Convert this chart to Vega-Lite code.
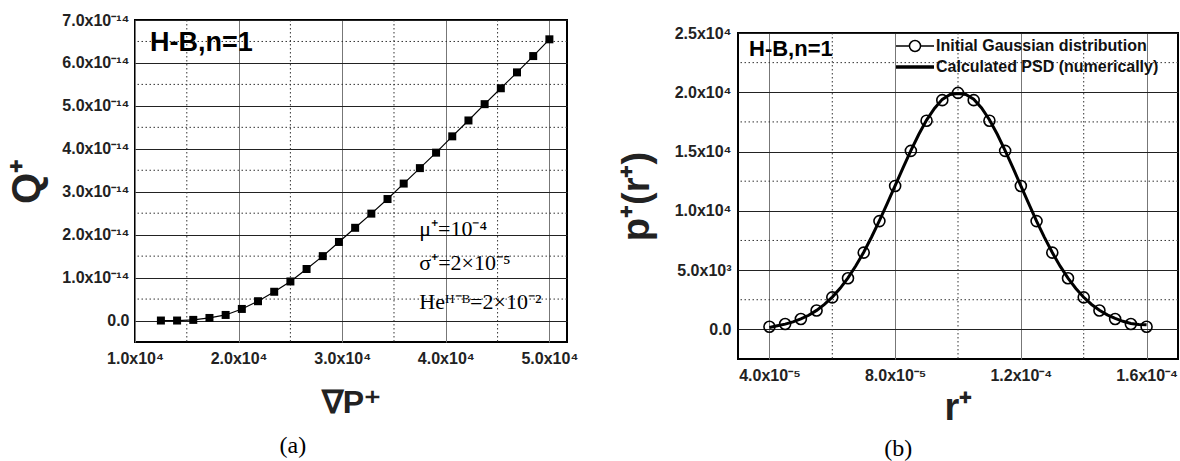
{
  "$schema": "https://vega.github.io/schema/vega-lite/v6.json",
  "background": "white",
  "padding": {"left": 6, "top": 11, "right": 0, "bottom": 0},
  "columns": 2,
  "spacing": 38,
  "resolve": {"legend": {"shape": "independent", "strokeWidth": "independent"}},
  "datasets": {
    "q": [
      {"dP": 12500, "Q": 0.0},
      {"dP": 14062.5, "Q": 0.0},
      {"dP": 15625, "Q": 0.015e-14},
      {"dP": 17187.5, "Q": 0.06e-14},
      {"dP": 18750, "Q": 0.13e-14},
      {"dP": 20312.5, "Q": 0.27e-14},
      {"dP": 21875, "Q": 0.45e-14},
      {"dP": 23437.5, "Q": 0.67e-14},
      {"dP": 25000, "Q": 0.91e-14},
      {"dP": 26562.5, "Q": 1.20e-14},
      {"dP": 28125, "Q": 1.50e-14},
      {"dP": 29687.5, "Q": 1.83e-14},
      {"dP": 31250, "Q": 2.16e-14},
      {"dP": 32812.5, "Q": 2.49e-14},
      {"dP": 34375, "Q": 2.83e-14},
      {"dP": 35937.5, "Q": 3.19e-14},
      {"dP": 37500, "Q": 3.55e-14},
      {"dP": 39062.5, "Q": 3.91e-14},
      {"dP": 40625, "Q": 4.29e-14},
      {"dP": 42187.5, "Q": 4.66e-14},
      {"dP": 43750, "Q": 5.04e-14},
      {"dP": 45312.5, "Q": 5.41e-14},
      {"dP": 46875, "Q": 5.78e-14},
      {"dP": 48437.5, "Q": 6.16e-14},
      {"dP": 50000, "Q": 6.55e-14}
    ],
    "qMinorX": [{"dP": 15000}, {"dP": 25000}, {"dP": 35000}, {"dP": 45000}],
    "qMinorY": [{"Q": 0.5e-14}, {"Q": 1.5e-14}, {"Q": 2.5e-14}, {"Q": 3.5e-14}, {"Q": 4.5e-14}, {"Q": 5.5e-14}, {"Q": 6.5e-14}],
    "qNotes": [
      {"dP": 37440, "Q": 2.13e-14, "label": "μ⁺=10⁻⁴"},
      {"dP": 37440, "Q": 1.33e-14, "label": "σ⁺=2×10⁻⁵"},
      {"dP": 37440, "Q": 0.44e-14, "label": "Heᴴ⁻ᴮ=2×10⁻²"}
    ],
    "qTag": [{"dP": 11450, "Q": 6.47e-14, "label": "H-B,n=1"}],
    "gauss": [
      {"r": 4.0e-5, "p": 222, "series": "Initial Gaussian distribution"},
      {"r": 4.5e-5, "p": 455, "series": "Initial Gaussian distribution"},
      {"r": 5.0e-5, "p": 877, "series": "Initial Gaussian distribution"},
      {"r": 5.5e-5, "p": 1587, "series": "Initial Gaussian distribution"},
      {"r": 6.0e-5, "p": 2700, "series": "Initial Gaussian distribution"},
      {"r": 6.5e-5, "p": 4314, "series": "Initial Gaussian distribution"},
      {"r": 7.0e-5, "p": 6476, "series": "Initial Gaussian distribution"},
      {"r": 7.5e-5, "p": 9132, "series": "Initial Gaussian distribution"},
      {"r": 8.0e-5, "p": 12099, "series": "Initial Gaussian distribution"},
      {"r": 8.5e-5, "p": 15057, "series": "Initial Gaussian distribution"},
      {"r": 9.0e-5, "p": 17603, "series": "Initial Gaussian distribution"},
      {"r": 9.5e-5, "p": 19334, "series": "Initial Gaussian distribution"},
      {"r": 1.0e-4, "p": 19947, "series": "Initial Gaussian distribution"},
      {"r": 1.05e-4, "p": 19334, "series": "Initial Gaussian distribution"},
      {"r": 1.1e-4, "p": 17603, "series": "Initial Gaussian distribution"},
      {"r": 1.15e-4, "p": 15057, "series": "Initial Gaussian distribution"},
      {"r": 1.2e-4, "p": 12099, "series": "Initial Gaussian distribution"},
      {"r": 1.25e-4, "p": 9132, "series": "Initial Gaussian distribution"},
      {"r": 1.3e-4, "p": 6476, "series": "Initial Gaussian distribution"},
      {"r": 1.35e-4, "p": 4314, "series": "Initial Gaussian distribution"},
      {"r": 1.4e-4, "p": 2700, "series": "Initial Gaussian distribution"},
      {"r": 1.45e-4, "p": 1587, "series": "Initial Gaussian distribution"},
      {"r": 1.5e-4, "p": 877, "series": "Initial Gaussian distribution"},
      {"r": 1.55e-4, "p": 455, "series": "Initial Gaussian distribution"},
      {"r": 1.6e-4, "p": 222, "series": "Initial Gaussian distribution"}
    ],
    "psd": [
      {"r": 4.0e-5, "p": 150}, {"r": 4.25e-5, "p": 300}, {"r": 4.5e-5, "p": 440}, {"r": 4.75e-5, "p": 630},
      {"r": 5.0e-5, "p": 880}, {"r": 5.25e-5, "p": 1190}, {"r": 5.5e-5, "p": 1600}, {"r": 5.75e-5, "p": 2100},
      {"r": 6.0e-5, "p": 2720}, {"r": 6.25e-5, "p": 3460}, {"r": 6.5e-5, "p": 4340}, {"r": 6.75e-5, "p": 5360},
      {"r": 7.0e-5, "p": 6500}, {"r": 7.25e-5, "p": 7790}, {"r": 7.5e-5, "p": 9170}, {"r": 7.75e-5, "p": 10630},
      {"r": 8.0e-5, "p": 12120}, {"r": 8.25e-5, "p": 13620}, {"r": 8.5e-5, "p": 15080}, {"r": 8.75e-5, "p": 16440},
      {"r": 9.0e-5, "p": 17650}, {"r": 9.25e-5, "p": 18640}, {"r": 9.5e-5, "p": 19400}, {"r": 9.75e-5, "p": 19810},
      {"r": 1.0e-4, "p": 19900}, {"r": 1.025e-4, "p": 19820}, {"r": 1.05e-4, "p": 19420}, {"r": 1.075e-4, "p": 18680},
      {"r": 1.1e-4, "p": 17680}, {"r": 1.125e-4, "p": 16460}, {"r": 1.15e-4, "p": 15080}, {"r": 1.175e-4, "p": 13620},
      {"r": 1.2e-4, "p": 12110}, {"r": 1.225e-4, "p": 10600}, {"r": 1.25e-4, "p": 9140}, {"r": 1.275e-4, "p": 7760},
      {"r": 1.3e-4, "p": 6480}, {"r": 1.325e-4, "p": 5330}, {"r": 1.35e-4, "p": 4320}, {"r": 1.375e-4, "p": 3450},
      {"r": 1.4e-4, "p": 2710}, {"r": 1.425e-4, "p": 2100}, {"r": 1.45e-4, "p": 1610}, {"r": 1.475e-4, "p": 1220},
      {"r": 1.5e-4, "p": 920}, {"r": 1.525e-4, "p": 680}, {"r": 1.55e-4, "p": 500}, {"r": 1.575e-4, "p": 420},
      {"r": 1.6e-4, "p": 380}
    ],
    "pMinorX": [{"r": 6e-5}, {"r": 1e-4}, {"r": 1.4e-4}],
    "pMinorY": [{"p": 2500}, {"p": 7500}, {"p": 12500}, {"p": 17500}, {"p": 22500}],
    "pTag": [{"r": 3.35e-5, "p": 23629, "label": "H-B,n=1"}]
  },
  "concat": [
    {
      "width": 432,
      "height": 322,
      "title": {"text": "(a)", "orient": "bottom", "anchor": "middle", "frame": "bounds", "font": "Liberation Serif", "fontSize": 24, "fontWeight": "normal", "color": "black", "offset": 16},
      "layer": [
        {
          "data": {"name": "qMinorX"},
          "mark": {"type": "rule", "color": "#333", "strokeWidth": 1, "strokeDash": [1.5, 2.5]},
          "encoding": {"x": {"field": "dP", "type": "quantitative", "scale": {"domain": [10000, 51700], "nice": false, "zero": false}}}
        },
        {
          "data": {"name": "qMinorY"},
          "mark": {"type": "rule", "color": "#333", "strokeWidth": 1, "strokeDash": [1.5, 2.5]},
          "encoding": {"y": {"field": "Q", "type": "quantitative", "scale": {"domain": [-5e-15, 7e-14], "nice": false, "zero": false}}}
        },
        {
          "data": {"name": "q"},
          "mark": {"type": "line", "color": "black", "strokeWidth": 1.2, "point": {"shape": "square", "filled": true, "size": 64, "color": "black"}},
          "encoding": {
            "x": {"field": "dP", "type": "quantitative", "scale": {"domain": [10000, 51700], "nice": false, "zero": false},
              "axis": {"values": [10000, 20000, 30000, 40000, 50000], "labelExpr": "format(datum.value/10000,'.1f')+'x10⁴'", "title": "∇P⁺", "titleFontSize": 32, "grid": true, "gridColor": "#777", "labelPadding": 8, "titlePadding": 21, "labelOverlap": false, "labelFlush": false}},
            "y": {"field": "Q", "type": "quantitative", "scale": {"domain": [-5e-15, 7e-14], "nice": false, "zero": false},
              "axis": {"values": [0, 1e-14, 2e-14, 3e-14, 4e-14, 5e-14, 6e-14, 7e-14], "labelExpr": "datum.value == 0 ? '0.0' : format(datum.value*1e14,'.1f')+'x10⁻¹⁴'", "title": "Q⁺", "titleFontSize": 40, "grid": true, "gridColor": "#222", "labelPadding": 6, "titlePadding": 14, "labelOverlap": false, "labelFlush": false}}
          }
        },
        {
          "data": {"name": "qTag"},
          "mark": {"type": "text", "font": "Liberation Sans", "fontWeight": "bold", "fontSize": 27, "align": "left", "baseline": "middle", "color": "black"},
          "encoding": {"x": {"field": "dP", "type": "quantitative"}, "y": {"field": "Q", "type": "quantitative"}, "text": {"field": "label"}}
        },
        {
          "data": {"name": "qNotes"},
          "mark": {"type": "text", "font": "Liberation Serif", "fontSize": 22, "align": "left", "baseline": "middle", "color": "black"},
          "encoding": {"x": {"field": "dP", "type": "quantitative"}, "y": {"field": "Q", "type": "quantitative"}, "text": {"field": "label"}}
        }
      ]
    },
    {
      "spacing": 3,
      "resolve": {"legend": {"shape": "independent", "strokeWidth": "independent"}},
      "vconcat": [
        {
          "width": 440,
          "height": 1,
          "data": {"values": []},
          "mark": "point",
          "encoding": {},
          "view": {"stroke": null}
        },
        {
          "width": 440,
          "height": 326,
          "title": {"text": "(b)", "orient": "bottom", "anchor": "middle", "frame": "bounds", "font": "Liberation Serif", "fontSize": 24, "fontWeight": "normal", "color": "black", "offset": 10},
          "layer": [
            {
              "data": {"name": "pMinorX"},
              "mark": {"type": "rule", "color": "#333", "strokeWidth": 1, "strokeDash": [1.5, 2.5]},
              "encoding": {"x": {"field": "r", "type": "quantitative", "scale": {"domain": [3e-5, 1.7e-4], "nice": false, "zero": false}}}
            },
            {
              "data": {"name": "pMinorY"},
              "mark": {"type": "rule", "color": "#333", "strokeWidth": 1, "strokeDash": [1.5, 2.5]},
              "encoding": {"y": {"field": "p", "type": "quantitative", "scale": {"domain": [-2500, 25000], "nice": false, "zero": false}}}
            },
            {
              "data": {"name": "psd"},
              "mark": {"type": "line", "color": "black", "strokeWidth": 3},
              "encoding": {
                "x": {"field": "r", "type": "quantitative", "scale": {"domain": [3e-5, 1.7e-4], "nice": false, "zero": false},
                  "axis": {"values": [4e-5, 8e-5, 1.2e-4, 1.6e-4], "labelExpr": "datum.value < 1e-4 ? format(datum.value*1e5,'.1f')+'x10⁻⁵' : format(datum.value*1e4,'.1f')+'x10⁻⁴'", "title": "r⁺", "titleFontSize": 38, "grid": true, "gridColor": "#777", "labelPadding": 8, "titlePadding": 6, "labelOverlap": false, "labelFlush": false}},
                "y": {"field": "p", "type": "quantitative", "scale": {"domain": [-2500, 25000], "nice": false, "zero": false},
                  "axis": {"values": [0, 5000, 10000, 15000, 20000, 25000], "labelExpr": "datum.value == 0 ? '0.0' : datum.value < 10000 ? format(datum.value/1000,'.1f')+'x10³' : format(datum.value/10000,'.1f')+'x10⁴'", "title": "p⁺(r⁺)", "titleFontSize": 38, "grid": true, "gridColor": "#222", "labelPadding": 7, "titlePadding": 18, "labelOverlap": false, "labelFlush": false}}
              }
            },
            {
              "data": {"name": "gauss"},
              "mark": {"type": "point", "filled": false, "color": "black", "size": 121, "strokeWidth": 1.6, "opacity": 1},
              "encoding": {
                "x": {"field": "r", "type": "quantitative"},
                "y": {"field": "p", "type": "quantitative"}
              }
            },
            {
              "data": {"name": "gauss"},
              "transform": [{"filter": "datum.p < 0"}],
              "mark": {"type": "point", "filled": false, "color": "black", "opacity": 1},
              "encoding": {
                "x": {"field": "r", "type": "quantitative"},
                "y": {"field": "p", "type": "quantitative"},
                "shape": {"field": "series", "type": "nominal",
                  "scale": {"domain": ["Initial Gaussian distribution", "Calculated PSD (numerically)"],
                    "range": ["M-2,0H-0.58M0.58,0H2M0.58,0A0.58,0.58,0,1,1,-0.58,0A0.58,0.58,0,1,1,0.58,0", "M-2,0H2"]},
                  "legend": {
                    "title": null, "orient": "none", "legendX": 165.5, "legendY": 2.5, "padding": 0, "rowPadding": 0,
                    "symbolSize": 361, "labelOffset": 9.5, "labelFont": "Liberation Sans", "labelFontWeight": "bold", "labelFontSize": 16, "labelColor": "#111", "labelLimit": 400,
                    "symbolStrokeColor": "black", "symbolFillColor": "transparent"
                  }
                },
                "strokeWidth": {"field": "series", "type": "nominal",
                  "scale": {"domain": ["Initial Gaussian distribution", "Calculated PSD (numerically)"], "range": [1.5, 3.5]},
                  "legend": {
                    "title": null, "orient": "none", "legendX": 165.5, "legendY": 2.5, "padding": 0, "rowPadding": 0,
                    "symbolSize": 361, "labelOffset": 9.5, "labelFont": "Liberation Sans", "labelFontWeight": "bold", "labelFontSize": 16, "labelColor": "#111", "labelLimit": 400,
                    "symbolStrokeColor": "black", "symbolFillColor": "transparent"
                  }
                }
              }
            },
            {
              "data": {"name": "pTag"},
              "mark": {"type": "text", "font": "Liberation Sans", "fontWeight": "bold", "fontSize": 22, "align": "left", "baseline": "middle", "color": "black"},
              "encoding": {"x": {"field": "r", "type": "quantitative"}, "y": {"field": "p", "type": "quantitative"}, "text": {"field": "label"}}
            }
          ]
        }
      ]
    }
  ],
  "config": {
    "view": {"stroke": "black", "strokeWidth": 2},
    "axis": {"domain": false, "ticks": false, "labelFont": "Liberation Sans", "labelFontWeight": "bold", "labelFontSize": 16, "labelColor": "#222", "titleFont": "Liberation Sans", "titleFontWeight": "bold", "titleColor": "#222", "gridOpacity": 1, "gridWidth": 1}
  }
}
